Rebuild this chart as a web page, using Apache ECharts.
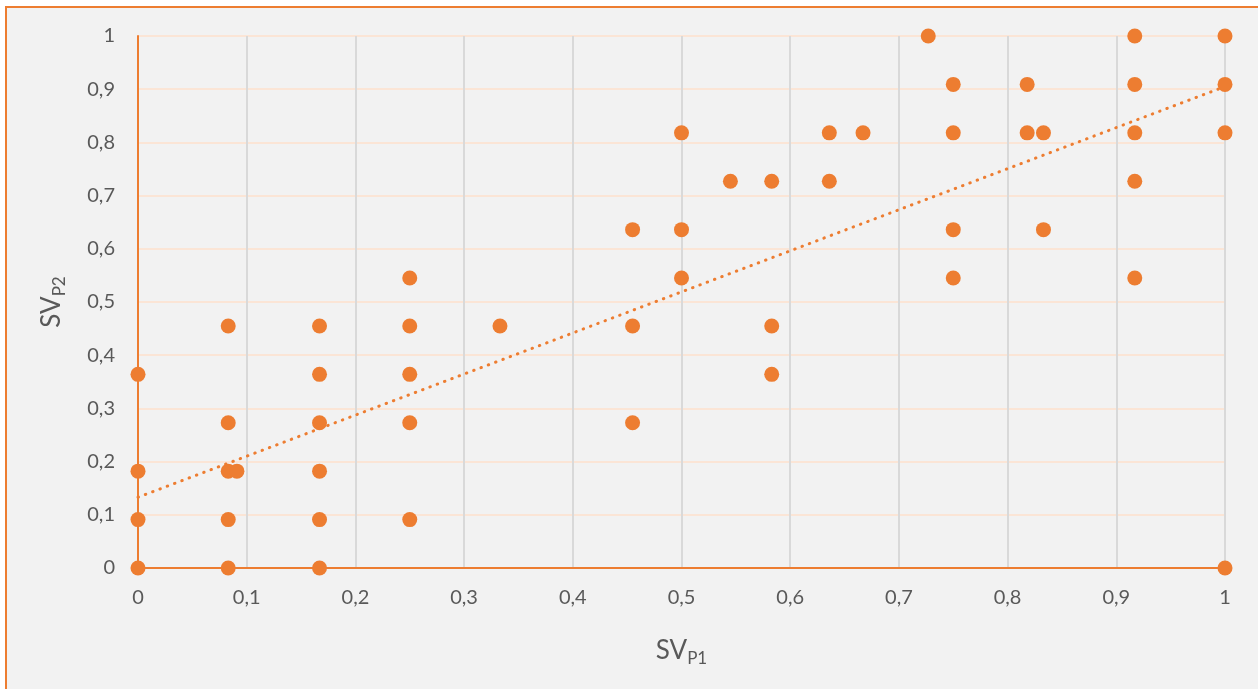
<!DOCTYPE html>
<html>
<head>
<meta charset="utf-8">
<script src="https://cdn.jsdelivr.net/npm/echarts@6/dist/echarts.min.js"></script>
<style>
  html, body { margin: 0; padding: 0; background: #fff; overflow: hidden; }
  #frame { position: absolute; left: 5px; top: 6px; width: 1300px; height: 800px;
           background: #F2F2F2; border: 2px solid #ED7D31; box-sizing: border-box; }
  #chart { position: absolute; left: 0; top: 0; width: 1258px; height: 689px; }
</style>
</head>
<body>
<div id="frame"></div>
<div id="chart"></div>
<script>
// SV_P1 / SV_P2 pairs
const sv1 = [
  0, 0, 0, 0,
  0.083, 0.083, 0.083, 0.083, 0.083,
  0.091,
  0.167, 0.167, 0.167, 0.167, 0.167, 0.167,
  0.25, 0.25, 0.25, 0.25, 0.25,
  0.333,
  0.455, 0.455, 0.455,
  0.5, 0.5, 0.5,
  0.545,
  0.583, 0.583, 0.583,
  0.636, 0.636,
  0.667,
  0.727,
  0.75, 0.75, 0.75, 0.75,
  0.818, 0.818,
  0.833, 0.833,
  0.917, 0.917, 0.917, 0.917, 0.917,
  1, 1, 1, 1
];
const sv2 = [
  0.364, 0.182, 0.091, 0,
  0.455, 0.273, 0.182, 0.091, 0,
  0.182,
  0.455, 0.364, 0.273, 0.182, 0.091, 0,
  0.545, 0.455, 0.364, 0.273, 0.091,
  0.455,
  0.636, 0.455, 0.273,
  0.818, 0.636, 0.545,
  0.727,
  0.727, 0.455, 0.364,
  0.818, 0.727,
  0.818,
  1,
  0.909, 0.818, 0.636, 0.545,
  0.909, 0.818,
  0.818, 0.636,
  1, 0.909, 0.818, 0.727, 0.545,
  1, 0.909, 0.818, 0
];
// linear trendline ends
const trendX = [0, 1];
const trendY = [0.133, 0.905];

const orange = '#ED7D31';
const textColor = '#595959';
const fmt = v => String(+v.toFixed(1)).replace('.', ',');

const chart = echarts.init(document.getElementById('chart'));
chart.setOption({
  backgroundColor: 'transparent',
  textStyle: { fontFamily: 'Lato, "Open Sans", sans-serif' },
  grid: { left: 138, right: 33, top: 36, bottom: 121, containLabel: false },
  xAxis: {
    type: 'value', min: 0, max: 1, interval: 0.1,
    name: 'SV{sub|P1}', nameLocation: 'middle', nameGap: 66,
    nameTextStyle: {
      color: textColor, fontSize: 26,
      rich: { sub: { fontSize: 17, color: textColor, padding: [16, 0, 0, 0] } }
    },
    axisLine: { lineStyle: { color: orange, width: 2 } },
    axisTick: { show: false },
    axisLabel: { color: textColor, fontSize: 20, margin: 20, formatter: fmt },
    splitLine: { show: true, lineStyle: { color: '#D9D9D9', width: 2 } }
  },
  yAxis: {
    type: 'value', min: 0, max: 1, interval: 0.1,
    name: 'SV{sub|P2}', nameLocation: 'middle', nameGap: 70,
    nameTextStyle: {
      color: textColor, fontSize: 26,
      rich: { sub: { fontSize: 17, color: textColor, padding: [16, 0, 0, 0] } }
    },
    axisLine: { show: true, lineStyle: { color: orange, width: 2 } },
    axisTick: { show: false },
    axisLabel: { color: textColor, fontSize: 20, margin: 23, formatter: fmt },
    splitLine: { show: true, lineStyle: { color: '#FBE5D6', width: 2 } }
  },
  series: [
    {
      type: 'scatter',
      data: sv1.map((x, i) => [x, sv2[i]]),
      symbolSize: 15,
      itemStyle: { color: orange, opacity: 1 },
      clip: false,
      z: 3
    },
    {
      type: 'line',
      data: trendX.map((x, i) => [x, trendY[i]]),
      showSymbol: false,
      lineStyle: { color: orange, width: 3, type: [0.5, 7.3], cap: 'round' },
      z: 4
    }
  ]
});
</script>
</body>
</html>
